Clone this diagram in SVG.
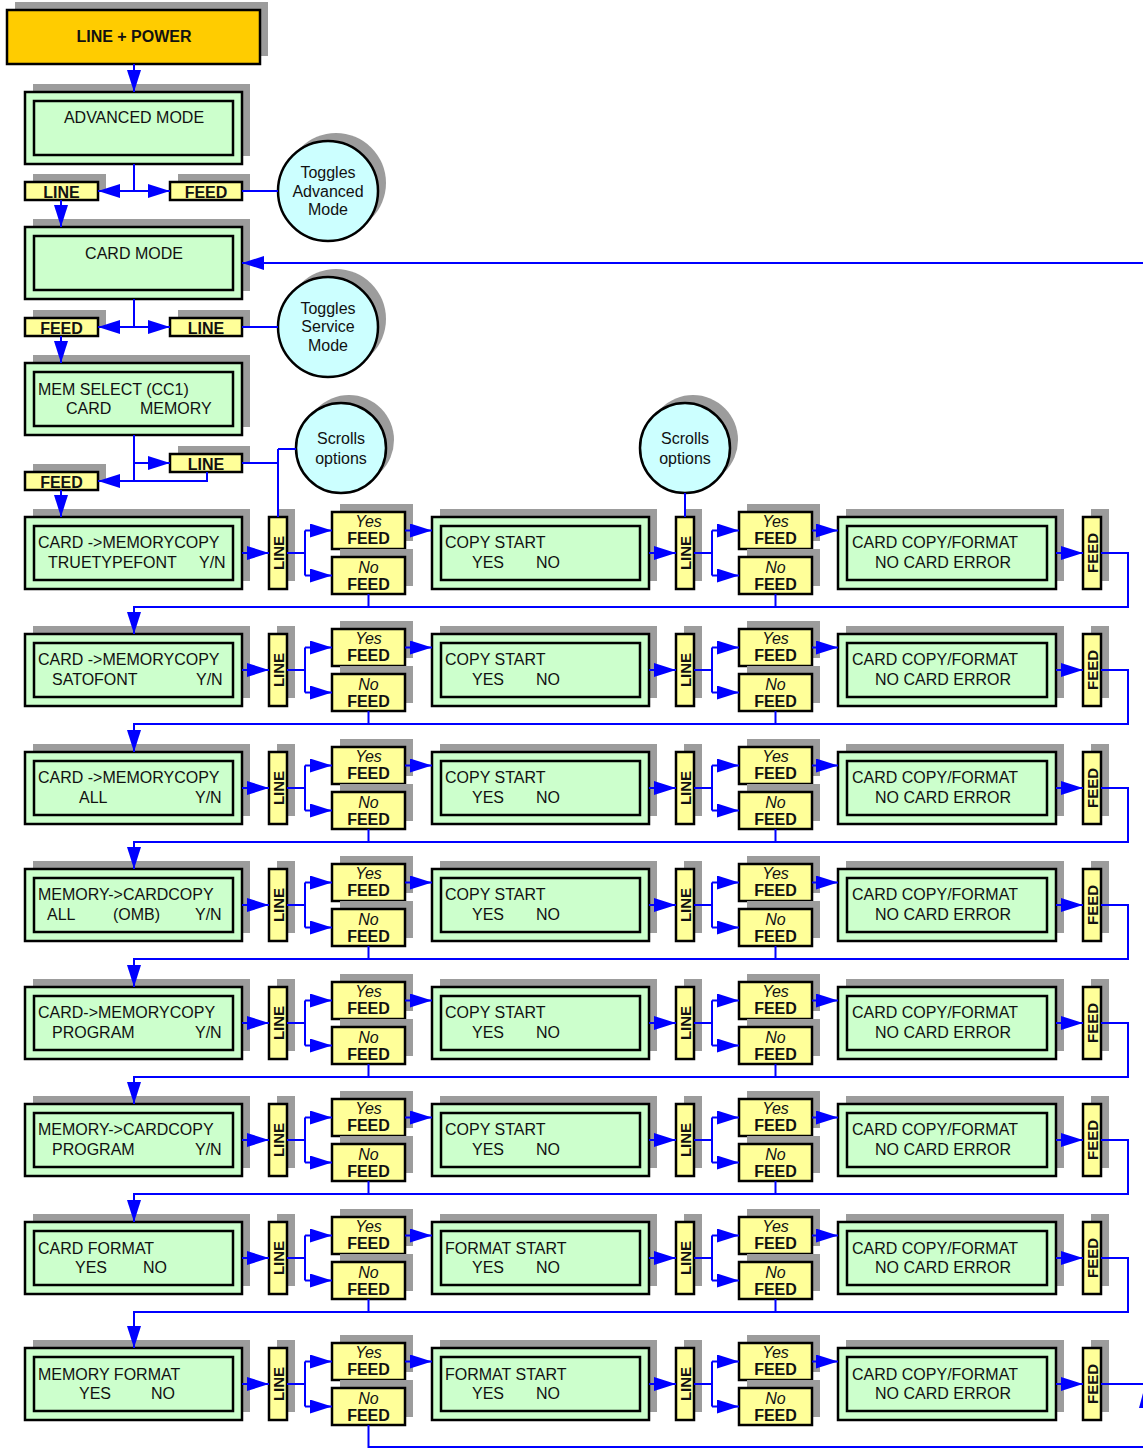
<svg xmlns="http://www.w3.org/2000/svg" width="1143" height="1448" viewBox="0 0 1143 1448">
<defs>
<style>
.sh{fill:#9c9c9c}
.box{fill:#CCFFCC;stroke:#000;stroke-width:2.5}
.yb{fill:#FFFF99;stroke:#000;stroke-width:2.5}
.cir{fill:#CCFFFF;stroke:#000;stroke-width:2.5}
.t{font-family:"Liberation Sans",Arial,sans-serif;font-size:16px;fill:#111}
.b{font-weight:bold}
.i{font-style:italic}
.m{text-anchor:middle}
.vt{font-size:15px;font-weight:bold;text-anchor:middle}
.c{fill:none;stroke:#0000FF;stroke-width:2}
.a{marker-end:url(#ah)}
</style>
<marker id="ah" viewBox="0 0 22 14" refX="22" refY="7" markerWidth="22" markerHeight="14" markerUnits="userSpaceOnUse" orient="auto">
<path d="M0,0L22,7L0,14z" fill="#0000FF"/>
</marker>
</defs>
<rect width="1143" height="1448" fill="#fff"/>

<g id="nodes">
<g id="power"><rect class="sh" x="15" y="2" width="253" height="54"/><rect x="7" y="10" width="253" height="54" fill="#FFCC00" stroke="#000" stroke-width="2.5"/><text class="t b m" x="134" y="42">LINE + POWER</text></g>
<g id="advanced"><rect class="sh" x="33" y="84" width="217" height="72"/><rect class="box" x="25" y="92" width="217" height="72"/><rect class="box" x="34" y="101" width="199" height="54"/><text class="t m" x="134" y="123">ADVANCED MODE</text></g>
<g id="adv-line"><rect class="sh" x="33" y="174" width="73" height="18"/><rect class="yb" x="25" y="182" width="73" height="18"/><text class="t b m" x="61.5" y="197.5">LINE</text></g>
<g id="adv-feed"><rect class="sh" x="178" y="174" width="72" height="18"/><rect class="yb" x="170" y="182" width="72" height="18"/><text class="t b m" x="206" y="197.5">FEED</text></g>
<g id="toggle-adv"><circle class="sh" cx="336" cy="183" r="50"/><circle class="cir" cx="328" cy="191" r="50"/><text class="t m" x="328" y="178">Toggles</text><text class="t m" x="328" y="197">Advanced</text><text class="t m" x="328" y="215">Mode</text></g>
<g id="cardmode"><rect class="sh" x="33" y="219" width="217" height="72"/><rect class="box" x="25" y="227" width="217" height="72"/><rect class="box" x="34" y="236" width="199" height="54"/><text class="t m" x="134" y="259">CARD MODE</text></g>
<g id="card-feed"><rect class="sh" x="33" y="310" width="73" height="18"/><rect class="yb" x="25" y="318" width="73" height="18"/><text class="t b m" x="61.5" y="333.5">FEED</text></g>
<g id="card-line"><rect class="sh" x="178" y="310" width="72" height="18"/><rect class="yb" x="170" y="318" width="72" height="18"/><text class="t b m" x="206" y="333.5">LINE</text></g>
<g id="toggle-svc"><circle class="sh" cx="336" cy="319" r="50"/><circle class="cir" cx="328" cy="327" r="50"/><text class="t m" x="328" y="314">Toggles</text><text class="t m" x="328" y="332">Service</text><text class="t m" x="328" y="351">Mode</text></g>
<g id="memsel"><rect class="sh" x="33" y="355" width="217" height="72"/><rect class="box" x="25" y="363" width="217" height="72"/><rect class="box" x="34" y="372" width="199" height="54"/><text class="t" x="38" y="395">MEM SELECT (CC1)</text><text class="t" y="414"><tspan x="66">CARD</tspan><tspan x="140">MEMORY</tspan></text></g>
<g id="mem-line"><rect class="sh" x="178" y="446" width="72" height="18"/><rect class="yb" x="170" y="454" width="72" height="18"/><text class="t b m" x="206" y="469.5">LINE</text></g>
<g id="mem-feed"><rect class="sh" x="33" y="464" width="73" height="18"/><rect class="yb" x="25" y="472" width="73" height="18"/><text class="t b m" x="61.5" y="487.5">FEED</text></g>
<g id="scroll1"><circle class="sh" cx="349" cy="440" r="45"/><circle class="cir" cx="341" cy="448" r="45"/><text class="t m" x="341" y="444">Scrolls</text><text class="t m" x="341" y="464">options</text></g>
<g id="scroll2"><circle class="sh" cx="693" cy="440" r="45"/><circle class="cir" cx="685" cy="448" r="45"/><text class="t m" x="685" y="444">Scrolls</text><text class="t m" x="685" y="464">options</text></g>

<g transform="translate(0,517)">
<g id="r1-main"><rect class="sh" x="33" y="-8" width="217" height="72"/><rect class="box" x="25" y="0" width="217" height="72"/><rect class="box" x="34" y="9" width="199" height="54"/><text class="t" x="38" y="31">CARD -&gt;MEMORYCOPY</text><text class="t" y="51"><tspan x="48">TRUETYPEFONT</tspan><tspan x="199">Y/N</tspan></text></g>
<g id="r1-line1"><rect class="sh" x="277" y="-8" width="18" height="72"/><rect class="yb" x="269" y="0" width="18" height="72"/><text class="t vt" transform="translate(283.5,36) rotate(-90)">LINE</text></g>
<g id="r1-yes1"><rect class="sh" x="340" y="-13" width="73" height="37"/><rect class="yb" x="332" y="-5" width="73" height="37"/><text class="t i m" x="368.5" y="10">Yes</text><text class="t b m" x="368.5" y="27">FEED</text></g>
<g id="r1-no1"><rect class="sh" x="340" y="32" width="73" height="37"/><rect class="yb" x="332" y="40" width="73" height="37"/><text class="t i m" x="368.5" y="56">No</text><text class="t b m" x="368.5" y="73">FEED</text></g>
<g id="r1-start"><rect class="sh" x="440" y="-8" width="217" height="72"/><rect class="box" x="432" y="0" width="217" height="72"/><rect class="box" x="441" y="9" width="199" height="54"/><text class="t" x="445" y="31">COPY START</text><text class="t" y="51"><tspan x="472">YES</tspan><tspan x="536">NO</tspan></text></g>
<g id="r1-line2"><rect class="sh" x="684" y="-8" width="18" height="72"/><rect class="yb" x="676" y="0" width="18" height="72"/><text class="t vt" transform="translate(690.5,36) rotate(-90)">LINE</text></g>
<g id="r1-yes2"><rect class="sh" x="747" y="-13" width="73" height="37"/><rect class="yb" x="739" y="-5" width="73" height="37"/><text class="t i m" x="775.5" y="10">Yes</text><text class="t b m" x="775.5" y="27">FEED</text></g>
<g id="r1-no2"><rect class="sh" x="747" y="32" width="73" height="37"/><rect class="yb" x="739" y="40" width="73" height="37"/><text class="t i m" x="775.5" y="56">No</text><text class="t b m" x="775.5" y="73">FEED</text></g>
<g id="r1-err"><rect class="sh" x="846" y="-8" width="218" height="72"/><rect class="box" x="838" y="0" width="218" height="72"/><rect class="box" x="847" y="9" width="200" height="54"/><text class="t" x="852" y="31">CARD COPY/FORMAT</text><text class="t" x="875" y="51">NO CARD ERROR</text></g>
<g id="r1-feed"><rect class="sh" x="1091" y="-8" width="18" height="72"/><rect class="yb" x="1083" y="0" width="18" height="72"/><text class="t vt" transform="translate(1097.5,36) rotate(-90)">FEED</text></g>
</g>

<g transform="translate(0,634)">
<g id="r2-main"><rect class="sh" x="33" y="-8" width="217" height="72"/><rect class="box" x="25" y="0" width="217" height="72"/><rect class="box" x="34" y="9" width="199" height="54"/><text class="t" x="38" y="31">CARD -&gt;MEMORYCOPY</text><text class="t" y="51"><tspan x="52">SATOFONT</tspan><tspan x="196">Y/N</tspan></text></g>
<g id="r2-line1"><rect class="sh" x="277" y="-8" width="18" height="72"/><rect class="yb" x="269" y="0" width="18" height="72"/><text class="t vt" transform="translate(283.5,36) rotate(-90)">LINE</text></g>
<g id="r2-yes1"><rect class="sh" x="340" y="-13" width="73" height="37"/><rect class="yb" x="332" y="-5" width="73" height="37"/><text class="t i m" x="368.5" y="10">Yes</text><text class="t b m" x="368.5" y="27">FEED</text></g>
<g id="r2-no1"><rect class="sh" x="340" y="32" width="73" height="37"/><rect class="yb" x="332" y="40" width="73" height="37"/><text class="t i m" x="368.5" y="56">No</text><text class="t b m" x="368.5" y="73">FEED</text></g>
<g id="r2-start"><rect class="sh" x="440" y="-8" width="217" height="72"/><rect class="box" x="432" y="0" width="217" height="72"/><rect class="box" x="441" y="9" width="199" height="54"/><text class="t" x="445" y="31">COPY START</text><text class="t" y="51"><tspan x="472">YES</tspan><tspan x="536">NO</tspan></text></g>
<g id="r2-line2"><rect class="sh" x="684" y="-8" width="18" height="72"/><rect class="yb" x="676" y="0" width="18" height="72"/><text class="t vt" transform="translate(690.5,36) rotate(-90)">LINE</text></g>
<g id="r2-yes2"><rect class="sh" x="747" y="-13" width="73" height="37"/><rect class="yb" x="739" y="-5" width="73" height="37"/><text class="t i m" x="775.5" y="10">Yes</text><text class="t b m" x="775.5" y="27">FEED</text></g>
<g id="r2-no2"><rect class="sh" x="747" y="32" width="73" height="37"/><rect class="yb" x="739" y="40" width="73" height="37"/><text class="t i m" x="775.5" y="56">No</text><text class="t b m" x="775.5" y="73">FEED</text></g>
<g id="r2-err"><rect class="sh" x="846" y="-8" width="218" height="72"/><rect class="box" x="838" y="0" width="218" height="72"/><rect class="box" x="847" y="9" width="200" height="54"/><text class="t" x="852" y="31">CARD COPY/FORMAT</text><text class="t" x="875" y="51">NO CARD ERROR</text></g>
<g id="r2-feed"><rect class="sh" x="1091" y="-8" width="18" height="72"/><rect class="yb" x="1083" y="0" width="18" height="72"/><text class="t vt" transform="translate(1097.5,36) rotate(-90)">FEED</text></g>
</g>

<g transform="translate(0,752)">
<g id="r3-main"><rect class="sh" x="33" y="-8" width="217" height="72"/><rect class="box" x="25" y="0" width="217" height="72"/><rect class="box" x="34" y="9" width="199" height="54"/><text class="t" x="38" y="31">CARD -&gt;MEMORYCOPY</text><text class="t" y="51"><tspan x="79">ALL</tspan><tspan x="195">Y/N</tspan></text></g>
<g id="r3-line1"><rect class="sh" x="277" y="-8" width="18" height="72"/><rect class="yb" x="269" y="0" width="18" height="72"/><text class="t vt" transform="translate(283.5,36) rotate(-90)">LINE</text></g>
<g id="r3-yes1"><rect class="sh" x="340" y="-13" width="73" height="37"/><rect class="yb" x="332" y="-5" width="73" height="37"/><text class="t i m" x="368.5" y="10">Yes</text><text class="t b m" x="368.5" y="27">FEED</text></g>
<g id="r3-no1"><rect class="sh" x="340" y="32" width="73" height="37"/><rect class="yb" x="332" y="40" width="73" height="37"/><text class="t i m" x="368.5" y="56">No</text><text class="t b m" x="368.5" y="73">FEED</text></g>
<g id="r3-start"><rect class="sh" x="440" y="-8" width="217" height="72"/><rect class="box" x="432" y="0" width="217" height="72"/><rect class="box" x="441" y="9" width="199" height="54"/><text class="t" x="445" y="31">COPY START</text><text class="t" y="51"><tspan x="472">YES</tspan><tspan x="536">NO</tspan></text></g>
<g id="r3-line2"><rect class="sh" x="684" y="-8" width="18" height="72"/><rect class="yb" x="676" y="0" width="18" height="72"/><text class="t vt" transform="translate(690.5,36) rotate(-90)">LINE</text></g>
<g id="r3-yes2"><rect class="sh" x="747" y="-13" width="73" height="37"/><rect class="yb" x="739" y="-5" width="73" height="37"/><text class="t i m" x="775.5" y="10">Yes</text><text class="t b m" x="775.5" y="27">FEED</text></g>
<g id="r3-no2"><rect class="sh" x="747" y="32" width="73" height="37"/><rect class="yb" x="739" y="40" width="73" height="37"/><text class="t i m" x="775.5" y="56">No</text><text class="t b m" x="775.5" y="73">FEED</text></g>
<g id="r3-err"><rect class="sh" x="846" y="-8" width="218" height="72"/><rect class="box" x="838" y="0" width="218" height="72"/><rect class="box" x="847" y="9" width="200" height="54"/><text class="t" x="852" y="31">CARD COPY/FORMAT</text><text class="t" x="875" y="51">NO CARD ERROR</text></g>
<g id="r3-feed"><rect class="sh" x="1091" y="-8" width="18" height="72"/><rect class="yb" x="1083" y="0" width="18" height="72"/><text class="t vt" transform="translate(1097.5,36) rotate(-90)">FEED</text></g>
</g>

<g transform="translate(0,869)">
<g id="r4-main"><rect class="sh" x="33" y="-8" width="217" height="72"/><rect class="box" x="25" y="0" width="217" height="72"/><rect class="box" x="34" y="9" width="199" height="54"/><text class="t" x="38" y="31">MEMORY-&gt;CARDCOPY</text><text class="t" y="51"><tspan x="47">ALL</tspan><tspan x="113">(OMB)</tspan><tspan x="195">Y/N</tspan></text></g>
<g id="r4-line1"><rect class="sh" x="277" y="-8" width="18" height="72"/><rect class="yb" x="269" y="0" width="18" height="72"/><text class="t vt" transform="translate(283.5,36) rotate(-90)">LINE</text></g>
<g id="r4-yes1"><rect class="sh" x="340" y="-13" width="73" height="37"/><rect class="yb" x="332" y="-5" width="73" height="37"/><text class="t i m" x="368.5" y="10">Yes</text><text class="t b m" x="368.5" y="27">FEED</text></g>
<g id="r4-no1"><rect class="sh" x="340" y="32" width="73" height="37"/><rect class="yb" x="332" y="40" width="73" height="37"/><text class="t i m" x="368.5" y="56">No</text><text class="t b m" x="368.5" y="73">FEED</text></g>
<g id="r4-start"><rect class="sh" x="440" y="-8" width="217" height="72"/><rect class="box" x="432" y="0" width="217" height="72"/><rect class="box" x="441" y="9" width="199" height="54"/><text class="t" x="445" y="31">COPY START</text><text class="t" y="51"><tspan x="472">YES</tspan><tspan x="536">NO</tspan></text></g>
<g id="r4-line2"><rect class="sh" x="684" y="-8" width="18" height="72"/><rect class="yb" x="676" y="0" width="18" height="72"/><text class="t vt" transform="translate(690.5,36) rotate(-90)">LINE</text></g>
<g id="r4-yes2"><rect class="sh" x="747" y="-13" width="73" height="37"/><rect class="yb" x="739" y="-5" width="73" height="37"/><text class="t i m" x="775.5" y="10">Yes</text><text class="t b m" x="775.5" y="27">FEED</text></g>
<g id="r4-no2"><rect class="sh" x="747" y="32" width="73" height="37"/><rect class="yb" x="739" y="40" width="73" height="37"/><text class="t i m" x="775.5" y="56">No</text><text class="t b m" x="775.5" y="73">FEED</text></g>
<g id="r4-err"><rect class="sh" x="846" y="-8" width="218" height="72"/><rect class="box" x="838" y="0" width="218" height="72"/><rect class="box" x="847" y="9" width="200" height="54"/><text class="t" x="852" y="31">CARD COPY/FORMAT</text><text class="t" x="875" y="51">NO CARD ERROR</text></g>
<g id="r4-feed"><rect class="sh" x="1091" y="-8" width="18" height="72"/><rect class="yb" x="1083" y="0" width="18" height="72"/><text class="t vt" transform="translate(1097.5,36) rotate(-90)">FEED</text></g>
</g>

<g transform="translate(0,987)">
<g id="r5-main"><rect class="sh" x="33" y="-8" width="217" height="72"/><rect class="box" x="25" y="0" width="217" height="72"/><rect class="box" x="34" y="9" width="199" height="54"/><text class="t" x="38" y="31">CARD-&gt;MEMORYCOPY</text><text class="t" y="51"><tspan x="52">PROGRAM</tspan><tspan x="195">Y/N</tspan></text></g>
<g id="r5-line1"><rect class="sh" x="277" y="-8" width="18" height="72"/><rect class="yb" x="269" y="0" width="18" height="72"/><text class="t vt" transform="translate(283.5,36) rotate(-90)">LINE</text></g>
<g id="r5-yes1"><rect class="sh" x="340" y="-13" width="73" height="37"/><rect class="yb" x="332" y="-5" width="73" height="37"/><text class="t i m" x="368.5" y="10">Yes</text><text class="t b m" x="368.5" y="27">FEED</text></g>
<g id="r5-no1"><rect class="sh" x="340" y="32" width="73" height="37"/><rect class="yb" x="332" y="40" width="73" height="37"/><text class="t i m" x="368.5" y="56">No</text><text class="t b m" x="368.5" y="73">FEED</text></g>
<g id="r5-start"><rect class="sh" x="440" y="-8" width="217" height="72"/><rect class="box" x="432" y="0" width="217" height="72"/><rect class="box" x="441" y="9" width="199" height="54"/><text class="t" x="445" y="31">COPY START</text><text class="t" y="51"><tspan x="472">YES</tspan><tspan x="536">NO</tspan></text></g>
<g id="r5-line2"><rect class="sh" x="684" y="-8" width="18" height="72"/><rect class="yb" x="676" y="0" width="18" height="72"/><text class="t vt" transform="translate(690.5,36) rotate(-90)">LINE</text></g>
<g id="r5-yes2"><rect class="sh" x="747" y="-13" width="73" height="37"/><rect class="yb" x="739" y="-5" width="73" height="37"/><text class="t i m" x="775.5" y="10">Yes</text><text class="t b m" x="775.5" y="27">FEED</text></g>
<g id="r5-no2"><rect class="sh" x="747" y="32" width="73" height="37"/><rect class="yb" x="739" y="40" width="73" height="37"/><text class="t i m" x="775.5" y="56">No</text><text class="t b m" x="775.5" y="73">FEED</text></g>
<g id="r5-err"><rect class="sh" x="846" y="-8" width="218" height="72"/><rect class="box" x="838" y="0" width="218" height="72"/><rect class="box" x="847" y="9" width="200" height="54"/><text class="t" x="852" y="31">CARD COPY/FORMAT</text><text class="t" x="875" y="51">NO CARD ERROR</text></g>
<g id="r5-feed"><rect class="sh" x="1091" y="-8" width="18" height="72"/><rect class="yb" x="1083" y="0" width="18" height="72"/><text class="t vt" transform="translate(1097.5,36) rotate(-90)">FEED</text></g>
</g>

<g transform="translate(0,1104)">
<g id="r6-main"><rect class="sh" x="33" y="-8" width="217" height="72"/><rect class="box" x="25" y="0" width="217" height="72"/><rect class="box" x="34" y="9" width="199" height="54"/><text class="t" x="38" y="31">MEMORY-&gt;CARDCOPY</text><text class="t" y="51"><tspan x="52">PROGRAM</tspan><tspan x="195">Y/N</tspan></text></g>
<g id="r6-line1"><rect class="sh" x="277" y="-8" width="18" height="72"/><rect class="yb" x="269" y="0" width="18" height="72"/><text class="t vt" transform="translate(283.5,36) rotate(-90)">LINE</text></g>
<g id="r6-yes1"><rect class="sh" x="340" y="-13" width="73" height="37"/><rect class="yb" x="332" y="-5" width="73" height="37"/><text class="t i m" x="368.5" y="10">Yes</text><text class="t b m" x="368.5" y="27">FEED</text></g>
<g id="r6-no1"><rect class="sh" x="340" y="32" width="73" height="37"/><rect class="yb" x="332" y="40" width="73" height="37"/><text class="t i m" x="368.5" y="56">No</text><text class="t b m" x="368.5" y="73">FEED</text></g>
<g id="r6-start"><rect class="sh" x="440" y="-8" width="217" height="72"/><rect class="box" x="432" y="0" width="217" height="72"/><rect class="box" x="441" y="9" width="199" height="54"/><text class="t" x="445" y="31">COPY START</text><text class="t" y="51"><tspan x="472">YES</tspan><tspan x="536">NO</tspan></text></g>
<g id="r6-line2"><rect class="sh" x="684" y="-8" width="18" height="72"/><rect class="yb" x="676" y="0" width="18" height="72"/><text class="t vt" transform="translate(690.5,36) rotate(-90)">LINE</text></g>
<g id="r6-yes2"><rect class="sh" x="747" y="-13" width="73" height="37"/><rect class="yb" x="739" y="-5" width="73" height="37"/><text class="t i m" x="775.5" y="10">Yes</text><text class="t b m" x="775.5" y="27">FEED</text></g>
<g id="r6-no2"><rect class="sh" x="747" y="32" width="73" height="37"/><rect class="yb" x="739" y="40" width="73" height="37"/><text class="t i m" x="775.5" y="56">No</text><text class="t b m" x="775.5" y="73">FEED</text></g>
<g id="r6-err"><rect class="sh" x="846" y="-8" width="218" height="72"/><rect class="box" x="838" y="0" width="218" height="72"/><rect class="box" x="847" y="9" width="200" height="54"/><text class="t" x="852" y="31">CARD COPY/FORMAT</text><text class="t" x="875" y="51">NO CARD ERROR</text></g>
<g id="r6-feed"><rect class="sh" x="1091" y="-8" width="18" height="72"/><rect class="yb" x="1083" y="0" width="18" height="72"/><text class="t vt" transform="translate(1097.5,36) rotate(-90)">FEED</text></g>
</g>

<g transform="translate(0,1222)">
<g id="r7-main"><rect class="sh" x="33" y="-8" width="217" height="72"/><rect class="box" x="25" y="0" width="217" height="72"/><rect class="box" x="34" y="9" width="199" height="54"/><text class="t" x="38" y="32">CARD FORMAT</text><text class="t" y="51"><tspan x="75">YES</tspan><tspan x="143">NO</tspan></text></g>
<g id="r7-line1"><rect class="sh" x="277" y="-8" width="18" height="72"/><rect class="yb" x="269" y="0" width="18" height="72"/><text class="t vt" transform="translate(283.5,36) rotate(-90)">LINE</text></g>
<g id="r7-yes1"><rect class="sh" x="340" y="-13" width="73" height="37"/><rect class="yb" x="332" y="-5" width="73" height="37"/><text class="t i m" x="368.5" y="10">Yes</text><text class="t b m" x="368.5" y="27">FEED</text></g>
<g id="r7-no1"><rect class="sh" x="340" y="32" width="73" height="37"/><rect class="yb" x="332" y="40" width="73" height="37"/><text class="t i m" x="368.5" y="56">No</text><text class="t b m" x="368.5" y="73">FEED</text></g>
<g id="r7-start"><rect class="sh" x="440" y="-8" width="217" height="72"/><rect class="box" x="432" y="0" width="217" height="72"/><rect class="box" x="441" y="9" width="199" height="54"/><text class="t" x="445" y="32">FORMAT START</text><text class="t" y="51"><tspan x="472">YES</tspan><tspan x="536">NO</tspan></text></g>
<g id="r7-line2"><rect class="sh" x="684" y="-8" width="18" height="72"/><rect class="yb" x="676" y="0" width="18" height="72"/><text class="t vt" transform="translate(690.5,36) rotate(-90)">LINE</text></g>
<g id="r7-yes2"><rect class="sh" x="747" y="-13" width="73" height="37"/><rect class="yb" x="739" y="-5" width="73" height="37"/><text class="t i m" x="775.5" y="10">Yes</text><text class="t b m" x="775.5" y="27">FEED</text></g>
<g id="r7-no2"><rect class="sh" x="747" y="32" width="73" height="37"/><rect class="yb" x="739" y="40" width="73" height="37"/><text class="t i m" x="775.5" y="56">No</text><text class="t b m" x="775.5" y="73">FEED</text></g>
<g id="r7-err"><rect class="sh" x="846" y="-8" width="218" height="72"/><rect class="box" x="838" y="0" width="218" height="72"/><rect class="box" x="847" y="9" width="200" height="54"/><text class="t" x="852" y="32">CARD COPY/FORMAT</text><text class="t" x="875" y="51">NO CARD ERROR</text></g>
<g id="r7-feed"><rect class="sh" x="1091" y="-8" width="18" height="72"/><rect class="yb" x="1083" y="0" width="18" height="72"/><text class="t vt" transform="translate(1097.5,36) rotate(-90)">FEED</text></g>
</g>

<g transform="translate(0,1348)">
<g id="r8-main"><rect class="sh" x="33" y="-8" width="217" height="72"/><rect class="box" x="25" y="0" width="217" height="72"/><rect class="box" x="34" y="9" width="199" height="54"/><text class="t" x="38" y="32">MEMORY FORMAT</text><text class="t" y="51"><tspan x="79">YES</tspan><tspan x="151">NO</tspan></text></g>
<g id="r8-line1"><rect class="sh" x="277" y="-8" width="18" height="72"/><rect class="yb" x="269" y="0" width="18" height="72"/><text class="t vt" transform="translate(283.5,36) rotate(-90)">LINE</text></g>
<g id="r8-yes1"><rect class="sh" x="340" y="-13" width="73" height="37"/><rect class="yb" x="332" y="-5" width="73" height="37"/><text class="t i m" x="368.5" y="10">Yes</text><text class="t b m" x="368.5" y="27">FEED</text></g>
<g id="r8-no1"><rect class="sh" x="340" y="32" width="73" height="37"/><rect class="yb" x="332" y="40" width="73" height="37"/><text class="t i m" x="368.5" y="56">No</text><text class="t b m" x="368.5" y="73">FEED</text></g>
<g id="r8-start"><rect class="sh" x="440" y="-8" width="217" height="72"/><rect class="box" x="432" y="0" width="217" height="72"/><rect class="box" x="441" y="9" width="199" height="54"/><text class="t" x="445" y="32">FORMAT START</text><text class="t" y="51"><tspan x="472">YES</tspan><tspan x="536">NO</tspan></text></g>
<g id="r8-line2"><rect class="sh" x="684" y="-8" width="18" height="72"/><rect class="yb" x="676" y="0" width="18" height="72"/><text class="t vt" transform="translate(690.5,36) rotate(-90)">LINE</text></g>
<g id="r8-yes2"><rect class="sh" x="747" y="-13" width="73" height="37"/><rect class="yb" x="739" y="-5" width="73" height="37"/><text class="t i m" x="775.5" y="10">Yes</text><text class="t b m" x="775.5" y="27">FEED</text></g>
<g id="r8-no2"><rect class="sh" x="747" y="32" width="73" height="37"/><rect class="yb" x="739" y="40" width="73" height="37"/><text class="t i m" x="775.5" y="56">No</text><text class="t b m" x="775.5" y="73">FEED</text></g>
<g id="r8-err"><rect class="sh" x="846" y="-8" width="218" height="72"/><rect class="box" x="838" y="0" width="218" height="72"/><rect class="box" x="847" y="9" width="200" height="54"/><text class="t" x="852" y="32">CARD COPY/FORMAT</text><text class="t" x="875" y="51">NO CARD ERROR</text></g>
<g id="r8-feed"><rect class="sh" x="1091" y="-8" width="18" height="72"/><rect class="yb" x="1083" y="0" width="18" height="72"/><text class="t vt" transform="translate(1097.5,36) rotate(-90)">FEED</text></g>
</g>
</g>

<g id="connectors">
<path class="c a" d="M134,64V92"/>
<path class="c" d="M134,164V191"/>
<path class="c a" d="M134,191H98"/>
<path class="c a" d="M134,191H170"/>
<path class="c" d="M242,191H278"/>
<path class="c a" d="M61,200V227"/>
<path class="c a" d="M1143,263H242"/>
<path class="c" d="M134,299V327"/>
<path class="c a" d="M134,327H98"/>
<path class="c a" d="M134,327H170"/>
<path class="c" d="M242,327H278"/>
<path class="c a" d="M61,336V363"/>
<path class="c" d="M134,435V481"/>
<path class="c a" d="M134,463H170"/>
<path class="c a" d="M207,472V481H98"/>
<path class="c" d="M242,463H278M278,449V517M278,449H296"/>
<path class="c a" d="M61,490V517"/>
<path class="c" d="M685,493V517"/>

<g transform="translate(0,517)">
<path class="c a" d="M242,36H269"/><path class="c" d="M287,36H305M305,13.5V58.5M694,36H712M712,13.5V58.5M368.5,77V90M775.5,77V90"/>
<path class="c a" d="M305,13.5H332"/><path class="c a" d="M305,58.5H332"/><path class="c a" d="M405,13.5H432"/><path class="c a" d="M649,36H676"/>
<path class="c a" d="M712,13.5H739"/><path class="c a" d="M712,58.5H739"/><path class="c a" d="M812,13.5H838"/><path class="c a" d="M1056,36H1083"/>
<path class="c a" d="M1101,36H1128V90H134V117"/>
</g>
<g transform="translate(0,634)">
<path class="c a" d="M242,36H269"/><path class="c" d="M287,36H305M305,13.5V58.5M694,36H712M712,13.5V58.5M368.5,77V90M775.5,77V90"/>
<path class="c a" d="M305,13.5H332"/><path class="c a" d="M305,58.5H332"/><path class="c a" d="M405,13.5H432"/><path class="c a" d="M649,36H676"/>
<path class="c a" d="M712,13.5H739"/><path class="c a" d="M712,58.5H739"/><path class="c a" d="M812,13.5H838"/><path class="c a" d="M1056,36H1083"/>
<path class="c a" d="M1101,36H1128V90H134V118"/>
</g>
<g transform="translate(0,752)">
<path class="c a" d="M242,36H269"/><path class="c" d="M287,36H305M305,13.5V58.5M694,36H712M712,13.5V58.5M368.5,77V90M775.5,77V90"/>
<path class="c a" d="M305,13.5H332"/><path class="c a" d="M305,58.5H332"/><path class="c a" d="M405,13.5H432"/><path class="c a" d="M649,36H676"/>
<path class="c a" d="M712,13.5H739"/><path class="c a" d="M712,58.5H739"/><path class="c a" d="M812,13.5H838"/><path class="c a" d="M1056,36H1083"/>
<path class="c a" d="M1101,36H1128V90H134V117"/>
</g>
<g transform="translate(0,869)">
<path class="c a" d="M242,36H269"/><path class="c" d="M287,36H305M305,13.5V58.5M694,36H712M712,13.5V58.5M368.5,77V90M775.5,77V90"/>
<path class="c a" d="M305,13.5H332"/><path class="c a" d="M305,58.5H332"/><path class="c a" d="M405,13.5H432"/><path class="c a" d="M649,36H676"/>
<path class="c a" d="M712,13.5H739"/><path class="c a" d="M712,58.5H739"/><path class="c a" d="M812,13.5H838"/><path class="c a" d="M1056,36H1083"/>
<path class="c a" d="M1101,36H1128V90H134V118"/>
</g>
<g transform="translate(0,987)">
<path class="c a" d="M242,36H269"/><path class="c" d="M287,36H305M305,13.5V58.5M694,36H712M712,13.5V58.5M368.5,77V90M775.5,77V90"/>
<path class="c a" d="M305,13.5H332"/><path class="c a" d="M305,58.5H332"/><path class="c a" d="M405,13.5H432"/><path class="c a" d="M649,36H676"/>
<path class="c a" d="M712,13.5H739"/><path class="c a" d="M712,58.5H739"/><path class="c a" d="M812,13.5H838"/><path class="c a" d="M1056,36H1083"/>
<path class="c a" d="M1101,36H1128V90H134V117"/>
</g>
<g transform="translate(0,1104)">
<path class="c a" d="M242,36H269"/><path class="c" d="M287,36H305M305,13.5V58.5M694,36H712M712,13.5V58.5M368.5,77V90M775.5,77V90"/>
<path class="c a" d="M305,13.5H332"/><path class="c a" d="M305,58.5H332"/><path class="c a" d="M405,13.5H432"/><path class="c a" d="M649,36H676"/>
<path class="c a" d="M712,13.5H739"/><path class="c a" d="M712,58.5H739"/><path class="c a" d="M812,13.5H838"/><path class="c a" d="M1056,36H1083"/>
<path class="c a" d="M1101,36H1128V90H134V118"/>
</g>
<g transform="translate(0,1222)">
<path class="c a" d="M242,36H269"/><path class="c" d="M287,36H305M305,13.5V58.5M694,36H712M712,13.5V58.5M368.5,77V90M775.5,77V90"/>
<path class="c a" d="M305,13.5H332"/><path class="c a" d="M305,58.5H332"/><path class="c a" d="M405,13.5H432"/><path class="c a" d="M649,36H676"/>
<path class="c a" d="M712,13.5H739"/><path class="c a" d="M712,58.5H739"/><path class="c a" d="M812,13.5H838"/><path class="c a" d="M1056,36H1083"/>
<path class="c a" d="M1101,36H1128V90H134V126"/>
</g>
<g transform="translate(0,1348)">
<path class="c a" d="M242,36H269"/><path class="c" d="M287,36H305M305,13.5V58.5M694,36H712M712,13.5V58.5"/>
<path class="c a" d="M305,13.5H332"/><path class="c a" d="M305,58.5H332"/><path class="c a" d="M405,13.5H432"/><path class="c a" d="M649,36H676"/>
<path class="c a" d="M712,13.5H739"/><path class="c a" d="M712,58.5H739"/><path class="c a" d="M812,13.5H838"/><path class="c a" d="M1056,36H1083"/>
<path class="c" d="M1101,36H1143"/>
<path class="c" d="M368.5,77V99H1143"/>
</g>
<polygon points="1139,1408 1143,1393 1143,1408" fill="#0000FF"/>
</g>
</svg>
